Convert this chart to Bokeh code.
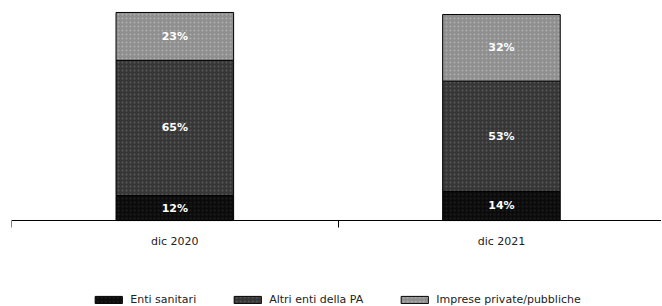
from bokeh.plotting import figure
from bokeh.models import (ColumnDataSource, FixedTicker, Legend, LegendItem, Range1d, LinearAxis)
from bokeh.core.properties import value
from bokeh.embed import file_html
from bokeh.resources import INLINE

categories = ["dic 2020", "dic 2021"]
series = ["Enti sanitari", "Altri enti della PA", "Imprese private/pubbliche"]
enti_sanitari = [12, 14]
altri_enti = [65, 53]
imprese = [23, 32]
colors = ["#0b0b0b", "#363636", "#8e8e8e"]

xpos = [i + 0.5 for i in range(len(categories))]
src = ColumnDataSource(dict(x=xpos, s0=enti_sanitari, s1=altri_enti, s2=imprese))

# frame extends below the baseline so that the legend can sit inside it
p = figure(frame_width=650, frame_height=298, output_backend="svg", toolbar_location=None,
           x_range=Range1d(0, 1.99), y_range=Range1d(-41.3, 101.9),
           x_axis_location=None, y_axis_location=None,
           min_border_left=11, min_border_right=0, min_border_top=8, min_border_bottom=0)
p.outline_line_color = None
p.grid.visible = False

renderers = p.vbar_stack(["s0", "s1", "s2"], x="x", width=0.36, source=src,
                         fill_color=colors, line_color="#000000", line_width=1)
hatch = [("dot", "#ffffff", 0.08), ("dot", "#9a9a9a", 0.35), ("dot", "#d8d8d8", 0.45)]
for r, (hp, hc, ha) in zip(renderers, hatch):
    r.glyph.hatch_pattern = hp
    r.glyph.hatch_color = hc
    r.glyph.hatch_alpha = ha
    r.glyph.hatch_scale = 4

# labels centered in segments
lx, ly, lt = [], [], []
for i in range(len(categories)):
    base = 0
    for vals in (enti_sanitari, altri_enti, imprese):
        v = vals[i]
        lx.append(xpos[i])
        ly.append(base + v / 2)
        lt.append(f"{v}%")
        base += v
p.text(x=lx, y=ly, text=lt, text_color="#ffffff", text_font=value("DejaVu Sans"),
       text_font_style="bold", text_font_size="11px", text_align="center",
       text_baseline="middle")

ax = LinearAxis(ticker=FixedTicker(ticks=xpos, minor_ticks=[0, 1, 2]),
                major_label_overrides={x: c for x, c in zip(xpos, categories)},
                fixed_location=0)
ax.axis_line_color = "#000000"
ax.axis_line_width = 1
ax.major_tick_line_color = None
ax.minor_tick_out = 7
ax.minor_tick_in = 0
ax.minor_tick_line_color = "#000000"
ax.major_label_text_font = "DejaVu Sans"
ax.major_label_text_font_size = "11px"
ax.major_label_text_color = "#222222"
ax.major_label_standoff = 7
p.add_layout(ax, "below")

legend = Legend(items=[LegendItem(label=s, renderers=[r]) for s, r in zip(series, renderers)],
                orientation="horizontal", location="bottom_center")
legend.label_text_font = "DejaVu Sans"
legend.label_text_font_size = "11px"
legend.label_text_color = "#222222"
legend.glyph_width = 34
legend.glyph_height = 9
legend.spacing = 34
legend.border_line_color = None
legend.background_fill_alpha = 0
legend.margin = 0
legend.padding = 4
legend.label_standoff = 5
p.add_layout(legend, "center")

open("out.html", "w").write(file_html(p, INLINE))
